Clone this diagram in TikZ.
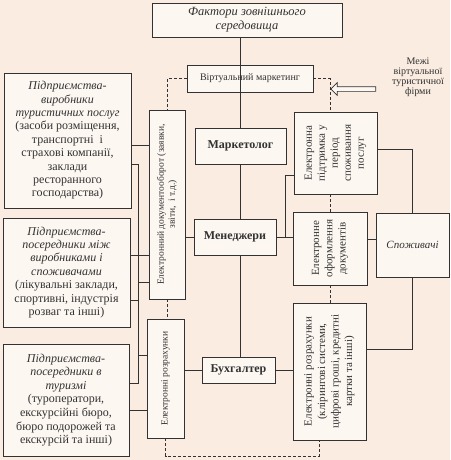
\documentclass[tikz,border=0pt]{standalone}
\usepackage{fontspec}
\setmainfont{Liberation Serif}
\usetikzlibrary{shapes.arrows}
\definecolor{paper}{RGB}{250,236,224}
\definecolor{boxfill}{RGB}{253,247,241}
\definecolor{ink}{RGB}{50,50,50}
\begin{document}
\begin{tikzpicture}[x=1pt,y=-1pt,line width=0.8pt,ink,
  box/.style={draw=ink,fill=boxfill,align=center,inner sep=1pt},
  rbox/.style={box,rotate=90},
  bound/.style={draw=ink,line width=0.7pt,dash pattern=on 3pt off 2pt}]
\fill[paper] (0,0) rectangle (450,460);
\useasboundingbox (0,0) rectangle (450,460);

% top row
\node[box,minimum width=190,minimum height=34,font=\fontsize{12.5}{14}\selectfont\itshape] at (247,20) (top) {Фактори зовнішнього\\середовища};
\node[box,minimum width=126,minimum height=27,font=\fontsize{10}{12}\selectfont] at (250,78.5) (vm) {Віртуальний маркетинг};
\node[align=center,font=\fontsize{10}{10}\selectfont] at (418,77) (mezhi) {Межі\\віртуальної\\туристичної\\фірми};
\node[single arrow,draw=ink,fill=boxfill,line width=0.7pt,shape border rotate=180,minimum height=45,inner sep=2pt,single arrow head extend=4pt] at (354.5,89) (arr) {};

% left column
\node[box,minimum width=127,minimum height=135,font=\fontsize{12}{13.4}\selectfont] at (67.5,140.5) (box1) {\textit{Підприємства-}\\\textit{виробники}\\\textit{туристичних послуг}\\(засоби розміщення,\\транспортні\ \ і\\страхові компанії,\\заклади\\ресторанного\\господарства)};
\node[box,minimum width=127,minimum height=109,font=\fontsize{12}{13.4}\selectfont] at (66.5,272.5) (box2) {\textit{Підприємства-}\\\textit{посередники між}\\\textit{виробниками і}\\\textit{споживачами}\\(лікувальні заклади,\\спортивні, індустрія\\розваг та інші)};
\node[box,minimum width=126,minimum height=112,font=\fontsize{12}{13.6}\selectfont] at (66,400) (box3) {\textit{Підприємства-}\\\textit{посередники в}\\\textit{туризмі}\\(туроператори,\\екскурсійні бюро,\\бюро подорожей та\\екскурсій та інші)};

% electronic channels, left
\node[rbox,minimum width=189,minimum height=36,font=\fontsize{9.5}{11}\selectfont] at (167,204.5) (edo) {Електронний документооборот (заявки,\\звіти,\ \ і т.д.)};
\node[rbox,minimum width=119,minimum height=37,font=\fontsize{9.5}{11}\selectfont] at (165.5,378.5) (erl) {Електронні розрахунки};

% staff
\node[box,minimum width=91,minimum height=36,font=\fontsize{12}{14}\selectfont\bfseries] at (240.5,146) (mark) {Маркетолог};
\node[box,minimum width=82,minimum height=36,font=\fontsize{12}{14}\selectfont\bfseries] at (235,237) (men) {Менеджери};
\node[box,minimum width=73,minimum height=26,font=\fontsize{12}{14}\selectfont\bfseries] at (238.5,370) (buh) {Бухгалтер};

% electronic channels, right
\node[rbox,minimum width=82,minimum height=83,font=\fontsize{11}{13}\selectfont] at (335.5,153) (sup) {Електронна\\підтримка у\\період\\споживання\\послуг};
\node[rbox,minimum width=73,minimum height=74,font=\fontsize{11}{13.3}\selectfont] at (330,248.5) (ofo) {Електронне\\оформлення\\документів};
\node[rbox,minimum width=137,minimum height=73,font=\fontsize{11}{13.5}\selectfont] at (329.5,371.5) (err) {Електронні розрахунки\\(клірингові системи,\\цифрові гроші, кредитні\\картки та інші)};
\node[box,minimum width=73,minimum height=64,font=\fontsize{11}{13}\selectfont\itshape] at (412.5,245) (spo) {Споживачі};

% main line
\draw (top.south-|mark) -- (vm.south-|mark|-vm.north);
\draw (vm.south-|mark) -- (mark.north);
\draw (mark.south) -- (men.north-|mark);
\draw (men.south-|mark) -- (buh.north-|mark);

% left links
\coordinate (bus) at (138,0);
\draw (box1.east|-0,145) -- (edo.north|-0,145);
\draw (box1.east|-0,164) -| (bus|-0,383) -- (box3.east|-0,383);
\draw (bus|-0,282) -- (edo.north|-0,282);
\draw (box2.east|-0,300) -- (bus|-0,300);
\draw (bus|-0,355) -- (erl.north|-0,355);
\draw (box2.east|-0,255) -- (edo.north|-0,255);
\draw (box3.east|-0,410) -- (erl.north|-0,410);
\draw (edo.south|-men) -- (men.west);
\draw (erl.south|-buh) -- (buh.west);

% right links
\draw (men.east) -- (ofo.north|-men);
\draw (buh.east) -- (err.north|-buh);
\draw (sup.north|-0,175) -| (285,0|-men);
\draw (sup.south|-0,149) -| (spo.north);
\draw (ofo.south|-0,239) -- (spo.west|-0,239);
\draw (spo.south) |- (err.south|-0,349);

% bounds of the virtual firm
\coordinate (bend) at (319,456);
\draw[bound] (vm.west) -| (edo.east);
\draw[bound] (vm.east) -| (ofo.east|-sup.east);
\draw[bound] (sup.west-|ofo.east) -- (ofo.east);
\draw[bound] (ofo.west) -- (err.east-|ofo.west);
\draw[bound] (edo.west) -- (erl.east-|edo.west);
\draw[bound] (erl.west) |- (bend) -- (bend|-err.west);
\end{tikzpicture}
\end{document}
